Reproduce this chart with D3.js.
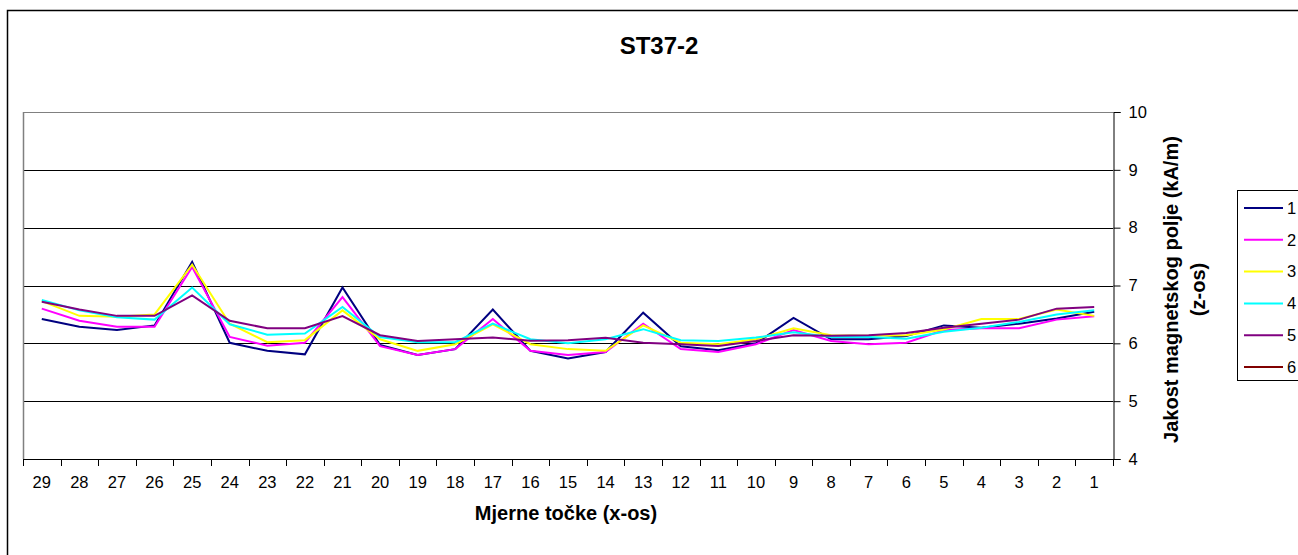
<!DOCTYPE html>
<html><head><meta charset="utf-8">
<script src="https://cdn.jsdelivr.net/npm/d3@7"></script>
<style>
html,body{margin:0;padding:0;background:#fff;}
svg{display:block;font-family:Arial,"Liberation Sans",sans-serif;}
</style></head>
<body>
<svg id="chart" width="1298" height="555"></svg>
<script>
const categories = ["29","28","27","26","25","24","23","22","21","20","19","18","17","16","15","14","13","12","11","10","9","8","7","6","5","4","3","2","1"];
const series1 = [6.42,6.285,6.23,6.31,7.41,6.01,5.87,5.81,6.965,5.97,5.80,5.90,6.585,5.87,5.74,5.85,6.53,5.95,5.88,6.00,6.44,6.07,6.07,6.125,6.31,6.27,6.34,6.43,6.545];
const series2 = [6.60,6.39,6.285,6.285,7.32,6.11,5.96,6.01,6.80,5.95,5.80,5.90,6.42,5.87,5.80,5.85,6.34,5.90,5.85,5.985,6.23,6.04,5.985,6.01,6.23,6.26,6.26,6.41,6.47];
const series3 = [6.73,6.475,6.46,6.50,7.36,6.34,6.02,6.055,6.57,6.07,5.87,5.985,6.33,5.985,5.90,5.87,6.31,6.01,5.985,6.07,6.26,6.14,6.13,6.14,6.24,6.42,6.42,6.585,6.475];
const series4 = [6.75,6.57,6.45,6.41,6.965,6.33,6.15,6.17,6.63,6.11,6.02,6.02,6.34,6.07,6.00,6.07,6.245,6.055,6.04,6.10,6.19,6.11,6.11,6.08,6.20,6.27,6.37,6.50,6.57];
const series5 = [6.72,6.585,6.475,6.475,6.83,6.39,6.26,6.26,6.47,6.14,6.04,6.07,6.10,6.045,6.055,6.095,6.01,5.985,5.955,6.04,6.14,6.13,6.14,6.18,6.27,6.34,6.41,6.60,6.63];
const series6 = [];
const seriesNames = ["1","2","3","4","5","6"];
const seriesColors = ["#000080","#FF00FF","#FFFF00","#00FFFF","#800080","#800000"];
const yTicks = [4,5,6,7,8,9,10];
const title = "ST37-2";
const xTitle = "Mjerne točke (x-os)";
const yTitle1 = "Jakost magnetskog polje (kA/m)";
const yTitle2 = "(z-os)";

const allSeries = [series1,series2,series3,series4,series5,series6];

const svg = d3.select("#chart");
const L = 23, R = 1113, T = 112, B = 459;

// outer chart border
svg.append("rect").attr("x",7.5).attr("y",10.5).attr("width",1320).attr("height",560)
  .attr("fill","#fff").attr("stroke","#000").attr("stroke-width",1.5);

const x = d3.scaleBand().domain(categories).range([L,R]).padding(0);
const y = d3.scaleLinear().domain([4,10]).range([B,T]);

// gridlines
svg.append("g").selectAll("line").data(yTicks.filter(v=>v>4)).join("line")
  .attr("x1",L).attr("x2",R).attr("y1",d=>Math.round(y(d))+0.5).attr("y2",d=>Math.round(y(d))+0.5)
  .attr("stroke",d=>d===10?"#808080":"#000").attr("stroke-width",1);

// plot area left border
svg.append("line").attr("x1",L+0.5).attr("x2",L+0.5).attr("y1",T).attr("y2",B)
  .attr("stroke","#808080").attr("stroke-width",1.5);

// x axis line + ticks at category boundaries
svg.append("line").attr("x1",L).attr("x2",R).attr("y1",B+0.5).attr("y2",B+0.5).attr("stroke","#000");
const bounds = categories.map(c=>x(c)).concat([R]);
svg.append("g").selectAll("line").data(bounds).join("line")
  .attr("x1",d=>Math.round(d)+0.5).attr("x2",d=>Math.round(d)+0.5)
  .attr("y1",B).attr("y2",B+7).attr("stroke","#000");
svg.append("g").selectAll("text").data(categories).join("text")
  .attr("x",d=>x(d)+x.bandwidth()/2).attr("y",488)
  .attr("text-anchor","middle").attr("font-size","16.5px").attr("fill","#000").text(d=>d);

// right y axis
const yAxis = d3.axisRight(y).tickValues(yTicks).tickSize(7).tickPadding(8).tickFormat(d3.format("d"));
const ga = svg.append("g").attr("transform",`translate(${R+0.5},0)`).call(yAxis);
ga.select(".domain").attr("stroke","#000");
ga.selectAll(".tick line").attr("stroke","#000");
ga.selectAll(".tick text").attr("font-size","16.5px").attr("fill","#000")
  .attr("font-family","Arial, 'Liberation Sans', sans-serif");

// lines
const line = d3.line().x((d,i)=>x(categories[i])+x.bandwidth()/2).y(d=>y(d));
allSeries.forEach((s,k)=>{
  if(!s.length) return;
  svg.append("path").datum(s).attr("d",line).attr("fill","none")
    .attr("stroke",seriesColors[k]).attr("stroke-width",2).attr("stroke-linejoin","miter");
});

// title
svg.append("text").attr("x",659).attr("y",54).attr("text-anchor","middle")
  .attr("font-size","24px").attr("font-weight","bold").text(title);
// x title
svg.append("text").attr("x",566).attr("y",520).attr("text-anchor","middle")
  .attr("font-size","20px").attr("font-weight","bold").text(xTitle);
// y title
svg.append("text").attr("transform","translate(1178,289.5) rotate(-90)").attr("text-anchor","middle")
  .attr("font-size","20px").attr("font-weight","bold").text(yTitle1);
svg.append("text").attr("transform","translate(1205,289.5) rotate(-90)").attr("text-anchor","middle")
  .attr("font-size","20px").attr("font-weight","bold").text(yTitle2);

// legend
const lg = svg.append("g");
lg.append("rect").attr("x",1237.5).attr("y",190.5).attr("width",80).attr("height",190)
  .attr("fill","#fff").attr("stroke","#000");
const ly = d3.scalePoint().domain(seriesNames).range([208,367]);
seriesNames.forEach((n,k)=>{
  lg.append("line").attr("x1",1244).attr("x2",1283).attr("y1",ly(n)).attr("y2",ly(n))
    .attr("stroke",seriesColors[k]).attr("stroke-width",2);
  lg.append("text").attr("x",1287).attr("y",ly(n)).attr("dy","0.35em")
    .attr("font-size","16.5px").text(n);
});
</script>
</body></html>
